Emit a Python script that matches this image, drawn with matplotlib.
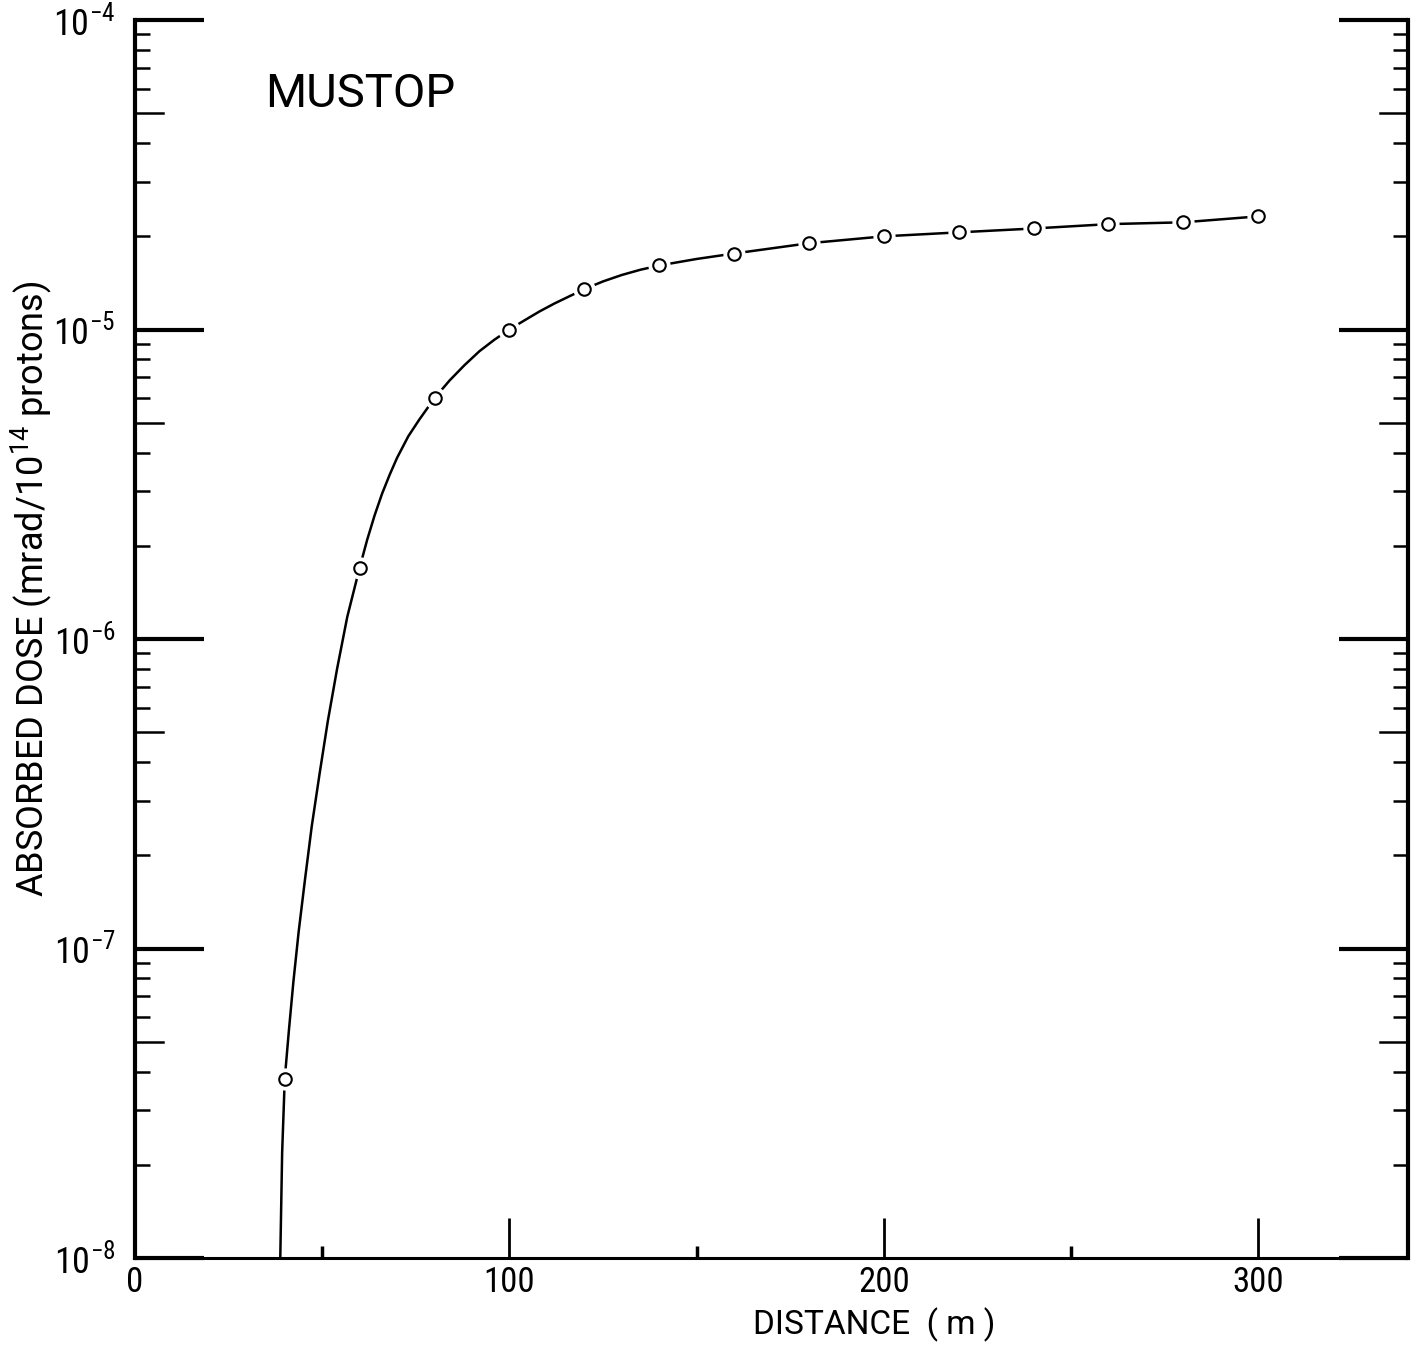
import numpy as np
import matplotlib
matplotlib.use('Agg')
from matplotlib import pyplot as plt
from matplotlib.ticker import FixedLocator, NullFormatter

# measured points (circles)
dist = [40, 60, 80, 100, 120, 140, 160, 180, 200, 220, 240, 260, 280, 300]
dose = [3.8e-8, 1.7e-6, 6.0e-6, 1.0e-5, 1.35e-5, 1.61e-5, 1.76e-5, 1.9e-5,
        2.0e-5, 2.06e-5, 2.12e-5, 2.19e-5, 2.22e-5, 2.32e-5]

# hand drawn curve
curve_x = [38.8, 39.3, 40.0, 41.1, 42.3, 43.7, 45.4, 47.2, 49.3, 51.5, 54.0,
           56.7, 60.0, 62, 64, 66, 68, 70, 73, 76, 80, 84, 88, 92, 96, 100,
           104, 108, 112, 116, 120, 125, 130, 135, 140, 150, 160, 180, 200,
           220, 240, 260, 280, 300]
curve_y = [1.0e-8, 2.19e-8, 3.8e-8, 5.43e-8, 7.8e-8, 1.13e-7, 1.67e-7,
           2.48e-7, 3.67e-7, 5.43e-7, 8.04e-7, 1.18e-6, 1.7e-6, 2.09e-6,
           2.51e-6, 2.95e-6, 3.39e-6, 3.85e-6, 4.52e-6, 5.13e-6, 6.0e-6,
           6.84e-6, 7.67e-6, 8.51e-6, 9.27e-6, 1.0e-5, 1.07e-5, 1.143e-5,
           1.213e-5, 1.28e-5, 1.35e-5, 1.43e-5, 1.50e-5, 1.56e-5, 1.61e-5,
           1.69e-5, 1.76e-5, 1.9e-5, 2.0e-5, 2.06e-5, 2.12e-5, 2.19e-5,
           2.22e-5, 2.32e-5]

x_major = [0, 100, 200, 300]
x_minor = [50, 150, 250]
x_labels = ['0', '100', '200', '300']
y_major = [1e-8, 1e-7, 1e-6, 1e-5, 1e-4]
y_labels = [r'$10^{-8}$', r'$10^{-7}$', r'$10^{-6}$', r'$10^{-5}$', r'$10^{-4}$']

plt.rcParams['font.family'] = ['Roboto Condensed', 'Liberation Sans Narrow',
                               'Roboto', 'DejaVu Sans']
plt.rcParams['mathtext.fontset'] = 'custom'
plt.rcParams['mathtext.rm'] = 'Roboto Condensed'
plt.rcParams['mathtext.default'] = 'regular'
wide = ['Roboto', 'DejaVu Sans']

fig = plt.figure(figsize=(14.2, 13.47), dpi=100)
ax = fig.add_axes([135 / 1420, 89 / 1347, 1273 / 1420, 1238 / 1347])

ax.plot(curve_x, curve_y, color='black', lw=1.8, zorder=2)
ax.plot(dist, dose, ls='none', marker='o', ms=15, mfc='white', mec='white',
        zorder=3)
ax.plot(dist, dose, ls='none', marker='o', ms=9, mfc='white', mec='black',
        mew=1.5, zorder=4)

ax.set_yscale('log')
ax.set_xlim(0, 340)
ax.set_ylim(1e-8, 1e-4)

ax.spines['top'].set_visible(False)
ax.spines['left'].set_linewidth(3)
ax.spines['right'].set_linewidth(3)
ax.spines['bottom'].set_linewidth(2.2)

ax.xaxis.set_major_locator(FixedLocator(x_major))
ax.xaxis.set_minor_locator(FixedLocator(x_minor))
ax.set_xticklabels(x_labels)
ax.tick_params(axis='x', which='major', direction='in', length=29, width=2,
               labelsize=25, pad=6, top=False)
ax.tick_params(axis='x', which='minor', direction='in', length=9, width=2.5,
               top=False)

ax.yaxis.set_major_locator(FixedLocator(y_major))
minors = [m * 10.0**d for d in range(-8, -4) for m in (2, 3, 4, 6, 7, 8, 9)]
ax.yaxis.set_minor_locator(FixedLocator(minors))
ax.yaxis.set_minor_formatter(NullFormatter())
ax.set_yticklabels(y_labels)
ax.tick_params(axis='y', which='major', direction='in', length=50, width=3,
               labelsize=26, pad=14, left=True, right=True)
ax.tick_params(axis='y', which='minor', direction='in', length=11, width=1.8,
               left=True, right=True)

# the 5x ticks are drawn a bit longer than the other minor ticks
tr = ax.get_yaxis_transform()
for d in range(-8, -4):
    v = 5 * 10.0**d
    ax.plot([0, 0.022], [v, v], color='black', lw=1.8, transform=tr,
            clip_on=False)
    ax.plot([0.978, 1], [v, v], color='black', lw=1.8, transform=tr,
            clip_on=False)

ax.text(0.102, 0.94, 'MUSTOP', transform=ax.transAxes, fontsize=34,
        family=wide, ha='left', va='center')

ax.set_xlabel('DISTANCE  ( m )', fontsize=24, family=wide)
ax.xaxis.set_label_coords(0.581, -0.04)
ax.set_ylabel(r'ABSORBED DOSE (mrad/$10^{14}$ protons)', fontsize=26,
              family=wide)
ax.yaxis.set_label_coords(-0.064, 0.541)

fig.savefig('out.png', dpi=100)
